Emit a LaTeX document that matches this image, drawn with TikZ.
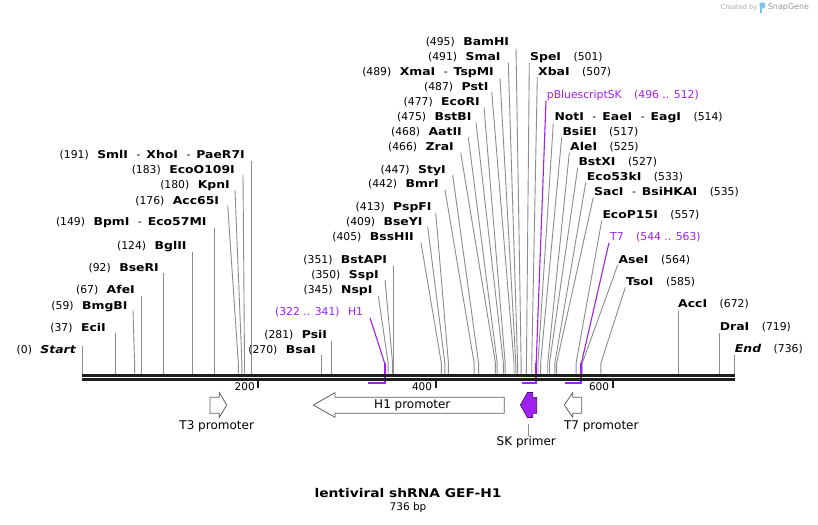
\documentclass[tikz,border=0pt]{standalone}
\usepackage{fontspec}
\setmainfont{DejaVu Sans}
\newfontfamily\bfstretch{DejaVu Sans}[FakeStretch=1.15]
\definecolor{cutgray}{RGB}{140,140,140}
\definecolor{snappurple}{RGB}{160,32,240}
\definecolor{barblack}{RGB}{30,30,30}
\definecolor{promgray}{RGB}{95,95,95}
\definecolor{logoblue}{RGB}{125,195,240}
\newcommand\bnm[1]{{\bfstretch\bfseries #1}}
\newcommand\bnmi[1]{{\bfstretch\bfseries\itshape #1}}
\newcommand\numgap{\hspace{8.5pt}}
\newcommand\namegap{\hspace{12.5pt}}
\newcommand\labdash{\hspace{8.5pt}-\hspace{6pt}}
\newcommand\siteX[1]{82.3+0.8865*#1}
% left-side label: id, text, right x, centre y, line start x, bp, line start dy
\newcommand\cutL[7]{%
  \node[lab,anchor=east] (#1) at ({#3},#4) {#2};
  \coordinate (#1-k) at ({\siteX{#6}},363);
  \coordinate (#1-s) at ({\siteX{#6}},373.5);
  \draw[cut] ([shift={({#5-(#3)},#7)}]#1.east) -- (#1-k) -- (#1-s);
}
% right-side label: id, text, left x, centre y, line start x, bp, line start dy
\newcommand\cutR[7]{%
  \node[lab,anchor=west] (#1) at ({#3},#4) {#2};
  \coordinate (#1-k) at ({\siteX{#6}},363);
  \coordinate (#1-s) at ({\siteX{#6}},373.5);
  \draw[cut] ([shift={({#5-(#3)},#7)}]#1.west) -- (#1-k) -- (#1-s);
}
\begin{document}
\begin{tikzpicture}[x=1pt,y=-1pt,
  lab/.style={font=\fontsize{10.8pt}{13pt}\selectfont, inner sep=0pt, text height=8.5pt, text depth=1.5pt},
  cut/.style={draw=cutgray, line width=0.9pt},
  pline/.style={draw=snappurple, line width=1.1pt},
  pbracket/.style={draw=snappurple, line width=1.9pt},
  flab/.style={font=\fontsize{12pt}{14pt}\selectfont, inner sep=0pt},
  ticklab/.style={font=\fontsize{10.5pt}{12pt}\selectfont, inner sep=0pt, anchor=east},
  prom/.style={draw=promgray, fill=white, line width=0.8pt, line join=miter},
  skprim/.style={draw=black!60!snappurple, fill=snappurple, line width=0.6pt}
]
\fill[white] (0,0) rectangle (818,524);
\useasboundingbox (0,0) rectangle (818,524);

% ---- left-side cut sites ----
\cutL{lStart}{(0)\numgap\bnmi{Start}}{76}{350}{\siteX{0}}{0}{-4}
\cutL{lEciI}{(37)\numgap\bnm{EciI}}{106}{327.7}{\siteX{37}}{37}{5}
\cutL{lBmgBI}{(59)\numgap\bnm{BmgBI}}{127.7}{305.7}{133}{59}{5}
\cutL{lAfeI}{(67)\numgap\bnm{AfeI}}{135}{290}{\siteX{67}}{67}{6}
\cutL{lBseRI}{(92)\numgap\bnm{BseRI}}{159}{267.7}{\siteX{92}}{92}{5.6}
\cutL{lBglII}{(124)\numgap\bnm{BglII}}{186.7}{245.7}{\siteX{124}}{124}{6}
\cutL{lBpmI}{(149)\numgap\bnm{BpmI}\labdash\bnm{Eco57MI}}{206.7}{222.3}{\siteX{149}}{149}{6}
\cutL{lAcc65I}{(176)\numgap\bnm{Acc65I}}{219.3}{200.7}{227.7}{176}{5}
\cutL{lKpnI}{(180)\numgap\bnm{KpnI}}{230}{185}{235}{180}{5}
\cutL{lEcoO}{(183)\numgap\bnm{EcoO109I}}{235}{170}{243}{183}{5}
\cutL{lSmlI}{(191)\numgap\bnm{SmlI}\labdash\bnm{XhoI}\labdash\bnm{PaeR7I}}{245}{155}{\siteX{191}}{191}{6}
\cutL{lBsaI}{(270)\numgap\bnm{BsaI}}{316}{350}{\siteX{270}}{270}{5}
\cutL{lPsiI}{(281)\numgap\bnm{PsiI}}{327.3}{335}{\siteX{281}}{281}{5.7}
\cutL{lNspI}{(345)\numgap\bnm{NspI}}{372.7}{290}{378.3}{345}{5.7}
\cutL{lSspI}{(350)\numgap\bnm{SspI}}{379}{275}{385}{350}{5}
\cutL{lBstAPI}{(351)\numgap\bnm{BstAPI}}{387.3}{260}{\siteX{351}}{351}{6}
\cutL{lBssHII}{(405)\numgap\bnm{BssHII}}{414}{236.7}{421}{405}{6}
\cutL{lBseYI}{(409)\numgap\bnm{BseYI}}{422.7}{221.7}{427.7}{409}{5}
\cutL{lPspFI}{(413)\numgap\bnm{PspFI}}{431.7}{206.7}{435.7}{413}{6}
\cutL{lBmrI}{(442)\numgap\bnm{BmrI}}{439}{184.3}{445}{442}{5.7}
\cutL{lStyI}{(447)\numgap\bnm{StyI}}{446}{170}{452.7}{447}{5}
\cutL{lZraI}{(466)\numgap\bnm{ZraI}}{454}{146.7}{460.7}{466}{6}
\cutL{lAatII}{(468)\numgap\bnm{AatII}}{462}{131.7}{468.3}{468}{5.6}
\cutL{lBstBI}{(475)\numgap\bnm{BstBI}}{471.7}{117.3}{476}{475}{5.4}
\cutL{lEcoRI}{(477)\numgap\bnm{EcoRI}}{480}{101.7}{484}{477}{5.6}
\cutL{lPstI}{(487)\numgap\bnm{PstI}}{488.7}{86.7}{491.7}{487}{5}
\cutL{lXmaI}{(489)\numgap\bnm{XmaI}\labdash\bnm{TspMI}}{494}{72.3}{500}{489}{6}
\cutL{lSmaI}{(491)\numgap\bnm{SmaI}}{500.7}{56.7}{508.3}{491}{6}
\cutL{lBamHI}{(495)\numgap\bnm{BamHI}}{509.3}{41.7}{516}{495}{6.6}

% ---- right-side cut sites ----
\cutR{rSpeI}{\bnm{SpeI}\namegap(501)}{530}{56.7}{529.3}{501}{6}
\cutR{rXbaI}{\bnm{XbaI}\namegap(507)}{538}{72.3}{537.3}{507}{5}
\cutR{rNotI}{\bnm{NotI}\labdash\bnm{EaeI}\labdash\bnm{EagI}\namegap(514)}{554.3}{116.7}{553.3}{514}{6.6}
\cutR{rBsiEI}{\bnm{BsiEI}\namegap(517)}{562.3}{131.7}{561.7}{517}{5.6}
\cutR{rAleI}{\bnm{AleI}\namegap(525)}{570}{146.7}{569.3}{525}{6}
\cutR{rBstXI}{\bnm{BstXI}\namegap(527)}{578.3}{161.7}{577.7}{527}{6}
\cutR{rEco53kI}{\bnm{Eco53kI}\namegap(533)}{586.7}{176.7}{585.7}{533}{6}
\cutR{rSacI}{\bnm{SacI}\labdash\bnm{BsiHKAI}\namegap(535)}{594}{191.7}{593.3}{535}{5.6}
\cutR{rEcoP15I}{\bnm{EcoP15I}\namegap(557)}{602.3}{215}{601.7}{557}{5.7}
\cutR{rAseI}{\bnm{AseI}\namegap(564)}{618.3}{260}{617.7}{564}{5}
\cutR{rTsoI}{\bnm{TsoI}\namegap(585)}{626}{282.3}{625.3}{585}{5}
\cutR{rAccI}{\bnm{AccI}\namegap(672)}{\siteX{672}}{304.3}{\siteX{672}}{672}{6.4}
\cutR{rDraI}{\bnm{DraI}\namegap(719)}{\siteX{719}}{326.7}{\siteX{719}}{719}{6.6}
\cutR{rEnd}{\bnmi{End}\namegap(736)}{\siteX{736}}{349.3}{\siteX{736}}{736}{5.7}

% ---- purple features ----
\node[lab,text=snappurple,anchor=east] (fH1) at (363.3,312.3) {(322 .. 341)\numgap H1};
\coordinate (fH1-k) at ({\siteX{341}},363);
\coordinate (fH1-b) at ({\siteX{341}},383.3);
\coordinate (fH1-c) at ({\siteX{322}},383.3);
\draw[pline] ([shift={(6.7,5.4)}]fH1.east) -- (fH1-k);
\draw[pbracket] (fH1-k) -- (fH1-b) -- (fH1-c);

\node[lab,text=snappurple,anchor=west] (fSK) at (546.7,95) {pBluescriptSK\namegap(496 .. 512)};
\coordinate (fSK-k) at ({\siteX{512}},363);
\coordinate (fSK-b) at ({\siteX{512}},383.3);
\coordinate (fSK-c) at ({\siteX{496}},383.3);
\draw[pline] ([shift={(-0.7,5.7)}]fSK.west) -- (fSK-k);
\draw[pbracket] (fSK-k) -- (fSK-b) -- (fSK-c);

\node[lab,text=snappurple,anchor=west] (fT7) at (610,236.7) {T7\namegap(544 .. 563)};
\coordinate (fT7-k) at ({\siteX{563}},363);
\coordinate (fT7-b) at ({\siteX{563}},383.3);
\coordinate (fT7-c) at ({\siteX{544}},383.3);
\draw[pline] ([shift={(-1,6)}]fT7.west) -- (fT7-k);
\draw[pbracket] (fT7-k) -- (fT7-b) -- (fT7-c);

% ---- sequence bar ----
\draw[barblack, line width=3pt] (82.3,375.2) -- (735.3,375.2);
\draw[barblack, line width=2.5pt] (82.3,379.5) -- (735.3,379.5);

% ---- ticks ----
\foreach \t/\tx in {200/258.3, 400/435.7, 600/612.7}{
  \coordinate (tick\t) at (\tx,380.5);
  \draw[barblack, line width=1.8pt] (tick\t) -- ++(0,7.5);
  \node[ticklab] (ticklab\t) at (\tx-3.4,386.7) {\t};
}

% ---- feature arrows ----
\draw[prom] (210,397.3) -- (219.3,397.3) -- (219.3,392.7) -- (226.7,405) -- (219.3,417.3) -- (219.3,413.3) -- (210,413.3) -- cycle;
\draw[prom] (504.3,397.3) -- (335,397.3) -- (335,392.7) -- (313.3,405) -- (335,417.3) -- (335,413.3) -- (504.3,413.3) -- cycle;
\draw[prom] (581.7,397.3) -- (572.7,397.3) -- (572.7,392.7) -- (564.3,405) -- (572.7,417.3) -- (572.7,413.3) -- (581.7,413.3) -- cycle;
\draw[skprim] (536.7,397.3) -- (532.8,397.3) -- (532.8,392.5) -- (527.4,392.5) -- (520.4,405) -- (527.4,417.5) -- (532.8,417.5) -- (532.8,413.3) -- (536.7,413.3) -- cycle;

\node[flab] (t3lab) at (216.7,426.7) {T3 promoter};
\node[flab] (h1lab) at (412.3,405) {H1 promoter};
\node[flab] (t7lab) at (601.3,426.7) {T7 promoter};
\node[flab] (sklab) at (526.3,442.3) {SK primer};
\coordinate (skbot) at (528.3,424);
\draw[cut, line width=0.8pt] (skbot) -- (skbot |- sklab.north);

% ---- title ----
\node[inner sep=0pt, font=\fontsize{12pt}{14pt}\selectfont] (title) at (408,492.7) {\bnm{lentiviral shRNA GEF-H1}};
\node[inner sep=0pt, font=\fontsize{10.5pt}{12pt}\selectfont] (bp) at (408,507.7) {736 bp};

% ---- credit ----
\node[inner sep=0pt, anchor=west, text=black!33, font=\fontsize{6.6pt}{8pt}\selectfont] (credit) at (720.7,7.5) {Created by};
\fill[logoblue, rounded corners=1.2pt] (759.6,2.6) rectangle (765.2,8.4);
\fill[logoblue] (759.6,5) rectangle (761.8,12.6);
\node[inner sep=0pt, anchor=west, text=black!40, font=\fontsize{8pt}{9pt}\selectfont] (snapgene) at (767.7,7.5) {SnapGene};
\end{tikzpicture}
\end{document}
